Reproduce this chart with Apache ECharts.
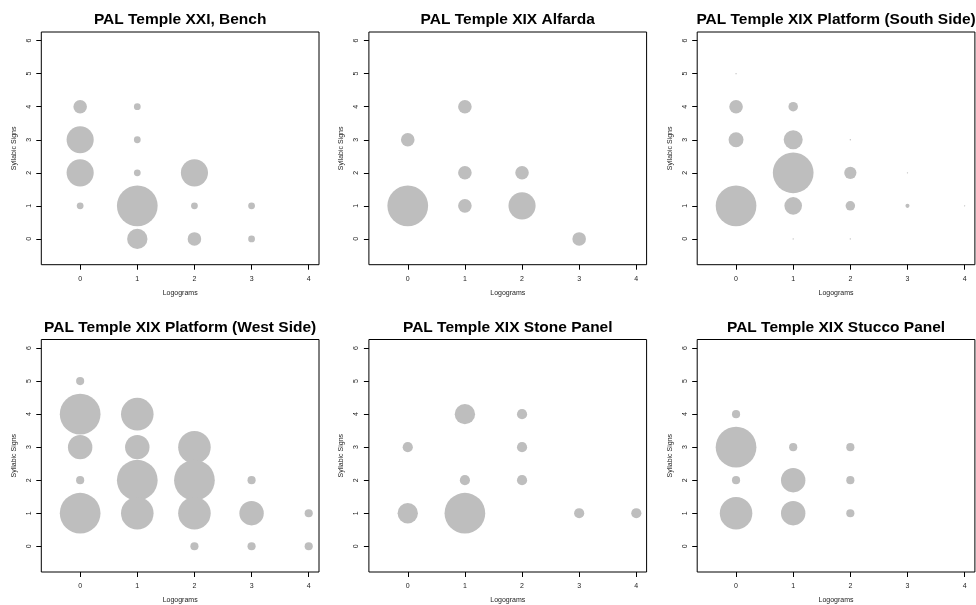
<!DOCTYPE html>
<html>
<head>
<meta charset="utf-8">
<script src="https://cdn.jsdelivr.net/npm/echarts@6/dist/echarts.min.js"></script>
<style>
html,body{margin:0;padding:0;background:#fff;}
#chart{width:976px;height:605px;}
</style>
</head>
<body>
<div id="chart"></div>
<script>
// ---- data: [logograms, syllabic signs, count] ----
const titles = [
  'PAL Temple XXI, Bench',
  'PAL Temple XIX Alfarda',
  'PAL Temple XIX Platform (South Side)',
  'PAL Temple XIX Platform (West Side)',
  'PAL Temple XIX Stone Panel',
  'PAL Temple XIX Stucco Panel'
];
const xTicks = [0, 1, 2, 3, 4];
const yTicks = [0, 1, 2, 3, 4, 5, 6];
const xName = 'Logograms';
const yName = 'Syllabic Signs';

const bench = [[0,4,2],[0,3,4],[0,2,4],[0,1,1],[1,4,1],[1,3,1],[1,2,1],[1,1,6],[1,0,3],[2,2,4],[2,1,1],[2,0,2],[3,1,1],[3,0,1]];
const alfarda = [[0,3,1],[0,1,3],[1,4,1],[1,2,1],[1,1,1],[2,2,1],[2,1,2],[3,0,1]];
const southSide = [[0,5,1],[0,4,10],[0,3,11],[0,1,30],[1,4,7],[1,3,14],[1,2,30],[1,1,13],[1,0,1],[2,3,1],[2,2,9],[2,1,7],[2,0,1],[3,2,1],[3,1,3],[4,1,1]];
const westSide = [[0,5,1],[0,4,5],[0,3,3],[0,2,1],[0,1,5],[1,4,4],[1,3,3],[1,2,5],[1,1,4],[2,3,4],[2,2,5],[2,1,4],[2,0,1],[3,2,1],[3,1,3],[3,0,1],[4,1,1],[4,0,1]];
const stonePanel = [[0,3,1],[0,1,2],[1,4,2],[1,2,1],[1,1,4],[2,4,1],[2,3,1],[2,2,1],[3,1,1],[4,1,1]];
const stuccoPanel = [[0,4,1],[0,3,5],[0,2,1],[0,1,4],[1,3,1],[1,2,3],[1,1,3],[2,3,1],[2,2,1],[2,1,1]];

const panels = [bench, alfarda, southSide, westSide, stonePanel, stuccoPanel];

// ---- layout ----
const FONT = "'Liberation Sans', Arial, Helvetica, sans-serif";
const gridLefts = [41.3, 368.9, 697.2];
const gridTops = [32, 339.5];
const gridW = 277.7, gridH = 232.7;
const titleY = [11.5, 319.5];
const MAXD = 40.7; // diameter of the largest circle in each panel (R symbols inches scaling)

const option = {
  backgroundColor: '#fff',
  animation: false,
  title: [], grid: [], xAxis: [], yAxis: [], series: []
};

panels.forEach((data, i) => {
  const col = i % 3, row = Math.floor(i / 3);
  const left = gridLefts[col], top = gridTops[row];
  const maxN = Math.max(...data.map(d => d[2]));
  option.title.push({
    text: titles[i],
    left: left + gridW / 2,
    top: titleY[row],
    padding: 0,
    textAlign: 'center',
    textStyle: {fontFamily: FONT, fontSize: 15.5, fontWeight: 'bold', color: '#000'}
  });
  option.grid.push({
    left: left, top: top, width: gridW, height: gridH,
    show: true, borderColor: '#000', borderWidth: 1, backgroundColor: 'transparent',
    containLabel: false
  });
  option.xAxis.push({
    type: 'value', gridIndex: i, min: -0.68, max: 4.18,
    name: xName, nameLocation: 'middle', nameGap: 25,
    nameTextStyle: {fontFamily: FONT, fontSize: 7, color: '#222'},
    axisLine: {show: false, onZero: false},
    axisTick: {show: true, customValues: xTicks, length: 5, lineStyle: {color: '#000', width: 1}},
    axisLabel: {customValues: xTicks, margin: 11, fontFamily: FONT, fontSize: 7, color: '#222'},
    splitLine: {show: false}
  });
  option.yAxis.push({
    type: 'value', gridIndex: i, min: -0.78, max: 6.26,
    name: yName, nameLocation: 'middle', nameGap: 24, nameRotate: 90,
    nameTextStyle: {fontFamily: FONT, fontSize: 7, color: '#222'},
    axisLine: {show: false, onZero: false},
    axisTick: {show: true, customValues: yTicks, length: 5, lineStyle: {color: '#000', width: 1}},
    axisLabel: {customValues: yTicks, margin: 9, rotate: 90, fontFamily: FONT, fontSize: 7, color: '#222'},
    splitLine: {show: false}
  });
  option.series.push({
    type: 'scatter', xAxisIndex: i, yAxisIndex: i,
    data: data,
    symbol: 'circle',
    symbolSize: d => d[2] * MAXD / maxN,
    itemStyle: {color: '#bebebe', opacity: 1},
    emphasis: {disabled: true},
    silent: true
  });
});

const chart = echarts.init(document.getElementById('chart'), null, {renderer: 'canvas'});
chart.setOption(option);
</script>
</body>
</html>
